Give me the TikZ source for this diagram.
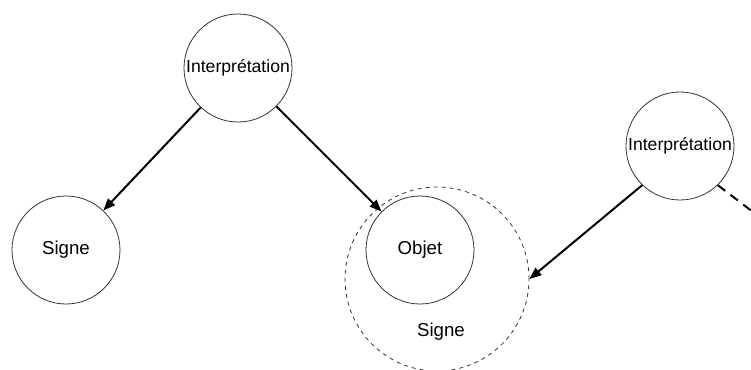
\documentclass[tikz,border=0pt]{standalone}
\usepackage{fontspec}
\setmainfont{Liberation Sans}
\usetikzlibrary{arrows.meta}

\begin{document}
\begin{tikzpicture}
        [ x=0.75pt, y=-0.75pt
        , rond/.style={circle, draw=black!80, line width=0.6pt, minimum size=81pt, inner sep=0pt, font=\fontsize{14}{16}\selectfont}
        , interp/.style={rond, font=\fontsize{13.2}{15}\selectfont}
        , fleche/.style={-{Triangle[length=9pt,width=7pt]}, line width=1.5pt}
        ]
                \useasboundingbox (0,0) rectangle (751,369);
                \node[interp] (interpA) at (238,68) {Interprétation};
                \node[rond] (signeA) at (66,250) {Signe};
                \node[rond] (objet) at (420,250) {Objet};
                \node[circle, draw=black!80, dashed, line width=0.6pt, minimum size=138pt, inner sep=0pt] (signeB) at (437,279) {};
                \node[font=\fontsize{14}{16}\selectfont] (signeBtxt) at (441,332) {Signe};
                \node[interp] (interpB) at (680,146) {Interprétation};
                \coordinate (suite) at (753,212);
                \draw[fleche] (interpA) -- (signeA);
                \draw[fleche] (interpA) -- (objet);
                \draw[fleche] (interpB.226) -- (signeB.east);
                \draw[line width=1.5pt, dashed, dash pattern=on 7pt off 5pt] (interpB.314) -- (suite);
        \end{tikzpicture}
\end{document}
